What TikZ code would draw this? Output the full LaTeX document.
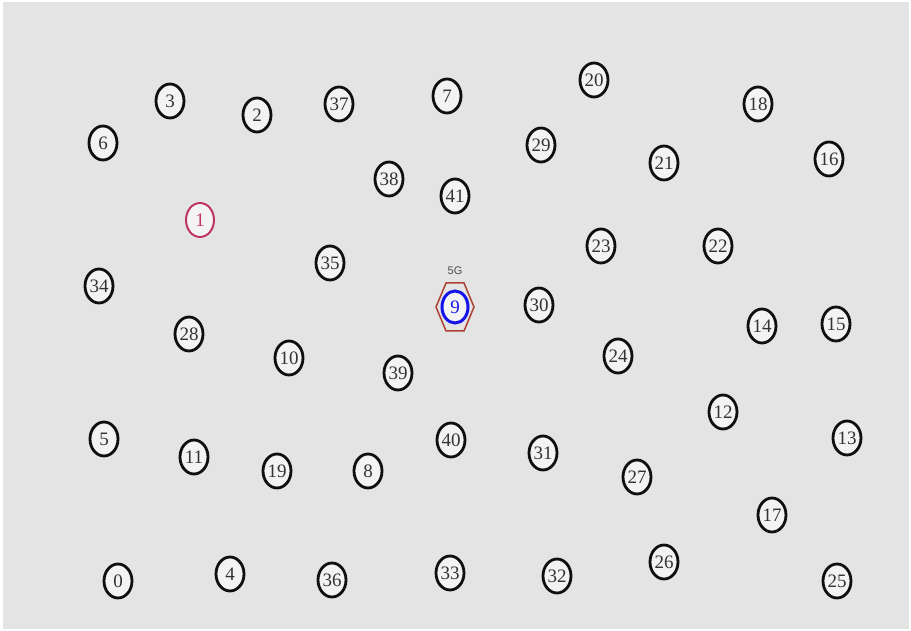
\documentclass[tikz,border=0pt]{standalone}
\usepackage{fontspec}
\setmainfont{Liberation Serif}
\newfontfamily\labelfont{Liberation Sans}
\usepackage{tikz}
\usetikzlibrary{shapes.geometric,calc}
\definecolor{bgc}{RGB}{228,228,228}
\definecolor{userc}{RGB}{15,15,15}
\definecolor{sourcec}{RGB}{192,52,96}
\definecolor{basec}{RGB}{20,20,235}
\definecolor{cellc}{RGB}{172,66,52}
\tikzset{
  peer/.style   = {ellipse, draw=userc, line width=2.8pt, inner sep=0pt,
                   fill=white!55!bgc,
                   minimum width=28pt, minimum height=34pt,
                   font=\fontsize{19}{19}\selectfont, text=userc!85},
  source/.style = {peer, draw=sourcec, line width=2pt, text=sourcec},
  bs/.style     = {peer, draw=basec, line width=3pt, text=basec,
                   minimum width=26pt, minimum height=32pt},
  cell/.style   = {draw=cellc, line width=1.5pt},
  tag/.style    = {font=\labelfont\fontsize{11}{11}\selectfont, text=black!70},
}
\begin{document}
\begin{tikzpicture}[x=1pt,y=-1pt]
\useasboundingbox (0,0) rectangle (911,631);
\fill[white] (0,0) rectangle (911,631);
\fill[bgc] (3,2) rectangle (909,629);

% top rows
\node[peer] (n6)  at (103,143) {6};
\node[peer] (n3)  at (170,101) {3};
\node[peer] (n2)  at (257,115) {2};
\node[peer] (n37) at (339,104) {37};
\node[peer] (n7)  at (447,96)  {7};
\node[peer] (n20) at (594,80)  {20};
\node[peer] (n18) at (758,104) {18};
\node[peer] (n29) at (541,145) {29};
\node[peer] (n21) at (664,163) {21};
\node[peer] (n16) at (829,159) {16};
\node[peer] (n38) at (389,179) {38};
\node[peer] (n41) at (455,196) {41};
\node[source] (n1) at (200,220) {1};
\node[peer] (n23) at (601,246) {23};
\node[peer] (n22) at (718,246) {22};
\node[peer] (n35) at (330,263) {35};
\node[peer] (n34) at (99,286)  {34};

% base station
\node[bs] (n9) at (455,307) {9};
\draw[cell] ($(n9)+(-19,0)$) -- ($(n9)+(-9,-24)$) -- ($(n9)+(9,-24)$)
  -- ($(n9)+(19,0)$) -- ($(n9)+(9,24)$) -- ($(n9)+(-9,24)$) -- cycle;
\node[tag] (g5) at (455,271) {5G};

% middle rows
\node[peer] (n30) at (539,305) {30};
\node[peer] (n14) at (762,326) {14};
\node[peer] (n15) at (836,324) {15};
\node[peer] (n28) at (189,334) {28};
\node[peer] (n10) at (289,358) {10};
\node[peer] (n39) at (398,373) {39};
\node[peer] (n24) at (618,356) {24};
\node[peer] (n12) at (723,412) {12};
\node[peer] (n5)  at (104,439) {5};
\node[peer] (n11) at (194,457) {11};
\node[peer] (n19) at (277,471) {19};
\node[peer] (n8)  at (368,471) {8};
\node[peer] (n40) at (451,440) {40};
\node[peer] (n31) at (543,453) {31};
\node[peer] (n27) at (637,477) {27};
\node[peer] (n13) at (847,438) {13};
\node[peer] (n17) at (772,515) {17};

% bottom row
\node[peer] (n0)  at (118,581) {0};
\node[peer] (n4)  at (230,574) {4};
\node[peer] (n36) at (332,580) {36};
\node[peer] (n33) at (450,573) {33};
\node[peer] (n32) at (557,576) {32};
\node[peer] (n26) at (664,562) {26};
\node[peer] (n25) at (837,581) {25};
\end{tikzpicture}
\end{document}
